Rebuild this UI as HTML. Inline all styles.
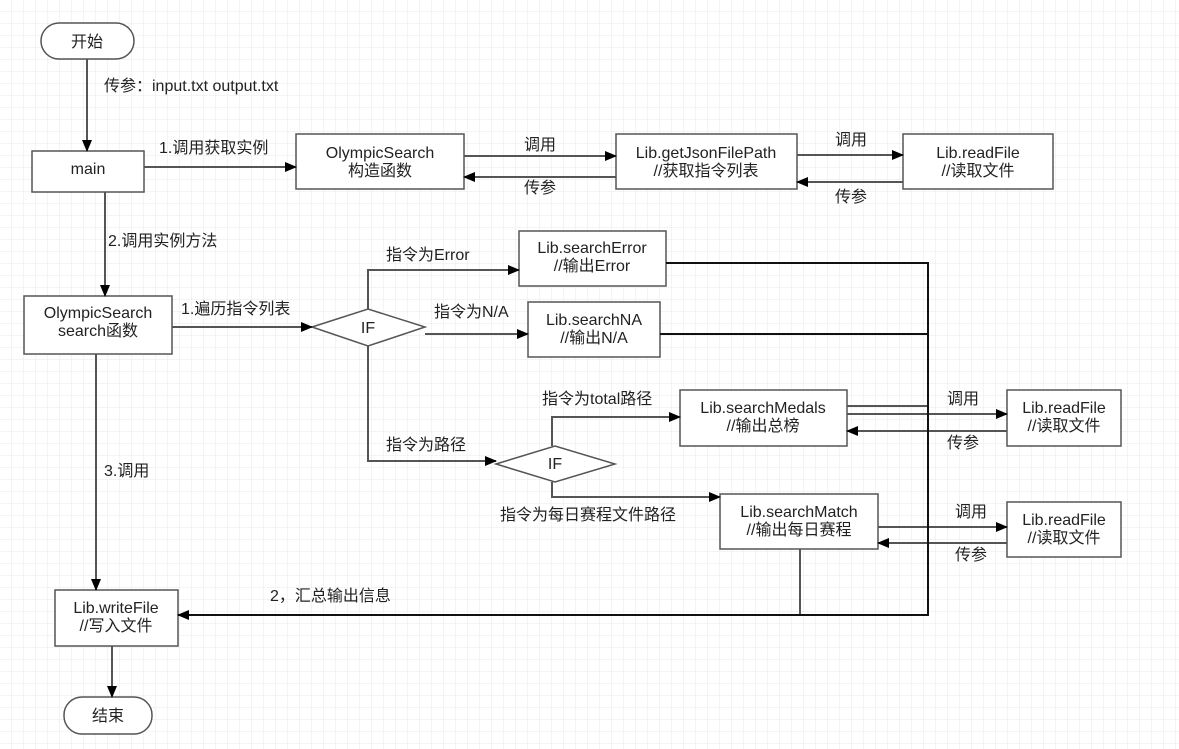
<!DOCTYPE html>
<html><head><meta charset="utf-8"><style>
html,body{margin:0;padding:0;background:#fff}
svg{display:block}
text{font-family:"Liberation Sans","Noto Sans CJK SC",sans-serif;font-size:16px;fill:#222}
</style></head><body>
<svg width="1179" height="749" viewBox="0 0 1179 749" xmlns="http://www.w3.org/2000/svg">
<defs>
<pattern id="g" width="12" height="12" patternUnits="userSpaceOnUse"><path d="M12 0V12M0 12H12" fill="none" stroke="#e8e8e8" stroke-width="1"/></pattern>
<marker id="a" markerWidth="12" markerHeight="10" refX="11" refY="5" orient="auto" markerUnits="userSpaceOnUse"><path d="M0 0L12 5L0 10Z" fill="#000"/></marker>
</defs>
<rect width="1179" height="749" fill="url(#g)"/>
<g fill="#fff" stroke="#555" stroke-width="1.5">
<rect x="41" y="23" width="93" height="36" rx="18"/>
<rect x="32" y="151" width="112" height="41"/>
<rect x="296" y="134" width="168" height="55"/>
<rect x="616" y="134" width="181" height="55"/>
<rect x="903" y="134" width="150" height="55"/>
<rect x="24" y="296" width="148" height="58"/>
<polygon points="312,327 368,309 425,327 368,346"/>
<rect x="519" y="231" width="147" height="55"/>
<rect x="528" y="302" width="132" height="55"/>
<polygon points="496,464 555,446 615,464 555,482"/>
<rect x="680" y="390" width="167" height="56"/>
<rect x="720" y="494" width="158" height="55"/>
<rect x="1007" y="390" width="114" height="56"/>
<rect x="1007" y="502" width="114" height="55"/>
<rect x="55" y="590" width="123" height="56"/>
<rect x="64" y="697" width="88" height="37" rx="18"/>
</g>
<g fill="none" stroke="#555" stroke-width="2">
<path d="M87 59V151" marker-end="url(#a)"/>
<path d="M144 167H296" marker-end="url(#a)"/>
<path d="M464 156H616" marker-end="url(#a)"/>
<path d="M616 177H464" marker-end="url(#a)"/>
<path d="M797 155H903" marker-end="url(#a)"/>
<path d="M903 182H797" marker-end="url(#a)"/>
<path d="M105 192V296" marker-end="url(#a)"/>
<path d="M172 327H312" marker-end="url(#a)"/>
<path d="M368 309V270H519" marker-end="url(#a)"/>
<path d="M425 334H528" marker-end="url(#a)"/>
<path d="M368 346V461H496" marker-end="url(#a)"/>
<path d="M552 446V417H680" marker-end="url(#a)"/>
<path d="M552 482V497H720" marker-end="url(#a)"/>
<path d="M847 406H928"/>
<path d="M847 414H1007" marker-end="url(#a)"/>
<path d="M1007 431H847" marker-end="url(#a)"/>
<path d="M878 527H1007" marker-end="url(#a)"/>
<path d="M1007 543H878" marker-end="url(#a)"/>
<path d="M800 549V615"/>
<path d="M96 354V590" marker-end="url(#a)"/>
<path d="M112 646V697" marker-end="url(#a)"/>
</g>
<g fill="none" stroke="#111" stroke-width="2">
<path d="M666 263H928V615H178" marker-end="url(#a)"/>
<path d="M660 334H928"/>
</g>
<g text-anchor="middle">
<text x="87" y="47">开始</text>
<text x="88" y="174">main</text>
<text x="380" y="158">OlympicSearch</text><text x="380" y="176">构造函数</text>
<text x="706" y="158">Lib.getJsonFilePath</text><text x="706" y="176">//获取指令列表</text>
<text x="978" y="158">Lib.readFile</text><text x="978" y="176">//读取文件</text>
<text x="98" y="318">OlympicSearch</text><text x="98" y="336">search函数</text>
<text x="368" y="333">IF</text>
<text x="592" y="253">Lib.searchError</text><text x="592" y="271">//输出Error</text>
<text x="594" y="325">Lib.searchNA</text><text x="594" y="343">//输出N/A</text>
<text x="555" y="469">IF</text>
<text x="763" y="413">Lib.searchMedals</text><text x="763" y="431">//输出总榜</text>
<text x="799" y="517">Lib.searchMatch</text><text x="799" y="535">//输出每日赛程</text>
<text x="1064" y="413">Lib.readFile</text><text x="1064" y="431">//读取文件</text>
<text x="1064" y="525">Lib.readFile</text><text x="1064" y="543">//读取文件</text>
<text x="116" y="613">Lib.writeFile</text><text x="116" y="631">//写入文件</text>
<text x="108" y="721">结束</text>
<text x="540" y="150">调用</text><text x="540" y="193">传参</text>
<text x="851" y="145">调用</text><text x="851" y="202">传参</text>
<text x="963" y="404">调用</text><text x="963" y="448">传参</text>
<text x="971" y="517">调用</text><text x="971" y="560">传参</text>
</g>
<text x="104" y="91">传参：input.txt output.txt</text>
<text x="159" y="153">1.调用获取实例</text>
<text x="108" y="246">2.调用实例方法</text>
<text x="181" y="314">1.遍历指令列表</text>
<text x="386" y="260">指令为Error</text>
<text x="434" y="317">指令为N/A</text>
<text x="386" y="450">指令为路径</text>
<text x="542" y="404">指令为total路径</text>
<text x="500" y="520">指令为每日赛程文件路径</text>
<text x="104" y="476">3.调用</text>
<text x="270" y="601">2，汇总输出信息</text>
</svg>
</body></html>
